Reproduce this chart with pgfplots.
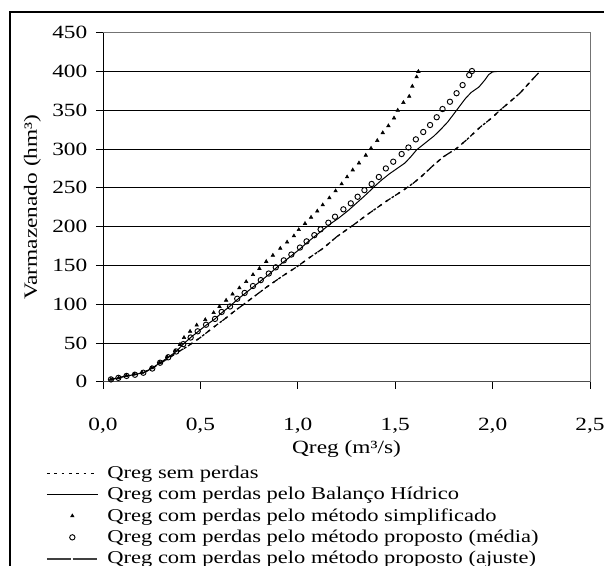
\documentclass[border=0pt]{standalone}
\usepackage{fontspec}
\setmainfont{Liberation Serif}[FakeStretch=1.25]
\usepackage{pgfplots}
\pgfplotsset{compat=1.18}
\pgfplotsset{
  lineleg/.style={legend image code/.code={\draw[##1] (0pt,0pt) -- (38pt,0pt);}},
  markleg/.style={legend image code/.code={\draw[##1] plot coordinates {(19pt,0pt)};}},
  ajusteleg/.style={legend image code/.code={\draw[black!75, line width=1.6pt, dash pattern=on 18pt off 1.2pt] (0pt,0pt) -- (38pt,0pt);}},
}
\begin{document}
\begin{tikzpicture}[x=1pt,y=1pt]
\useasboundingbox (0,0) rectangle (453,424.5);
\draw[line width=0.8pt] (7.5,-20) -- (7.5,415.5) -- (480,415.5);
\begin{axis}[
  at={(77.25pt,138.2pt)}, anchor=south west,
  scale only axis, width=365.25pt, height=261.75pt,
  xmin=0, xmax=2.5, ymin=0, ymax=450,
  xtick={0,0.5,1,1.5,2,2.5}, ytick={0,50,...,450},
  xtick pos=bottom, ytick pos=left,
  tick align=outside, major tick length=5.25pt,
  tick style={black, line width=0.6pt},
  axis line style={draw=none},
  ymajorgrids, grid style={black, line width=0.6pt},
  /pgf/number format/assume math mode=true,
  /pgf/number format/use comma,
  xticklabel={\pgfmathprintnumber[fixed, fixed zerofill, precision=1]{\tick}},
  ticklabel style={font=\fontsize{14}{16}\selectfont},
  xticklabel shift=18.5pt,
  yticklabel shift=3pt,
  every axis x label/.style={at={(axis description cs:0.5,0)}, anchor=center, yshift=-50.5pt},
  every axis y label/.style={at={(axis description cs:0,0.5)}, anchor=center, rotate=90, yshift=53pt},
  label style={font=\fontsize{14}{16}\selectfont},
  xlabel={Qreg (m³/s)},
  ylabel={Varmazenado (hm³)},
  legend style={draw=none, fill=none, at={(axis description cs:0,0)}, anchor=north west,
    xshift=-43pt, yshift=-61pt, font=\fontsize{13.5}{15.5}\selectfont,
    row sep=1.1pt, column sep=4.5pt, inner sep=0pt},
  legend cell align=left,
  clip=false,
]
\draw[black, line width=0.75pt] (rel axis cs:0,0) -- (rel axis cs:0,1);
\draw[black!55, line width=0.75pt] (rel axis cs:0,1) -- (rel axis cs:1,1) -- (rel axis cs:1,0);
\draw[black!70, line width=1pt] (rel axis cs:0,0) -- (rel axis cs:1,0);

% Qreg sem perdas
\addplot[black, line width=1pt, dash pattern=on 2pt off 3.5pt, lineleg]
coordinates {
(0.04,3) (0.08,5) (0.12,7.5) (0.16,9) (0.21,12) (0.25,17) (0.29,23) (0.335,30)
(0.376,37) (0.43,45) (0.50,57) (0.566,70) (0.62,80) (0.67,90) (0.75,105) (0.84,122)
(0.92,136) (0.994,148) (1.06,160) (1.13,172) (1.20,187) (1.285,202) (1.354,215)
(1.456,233) (1.542,247) (1.593,256) (1.636,265) (1.696,279) (1.747,290) (1.816,301)
(1.867,312) (1.935,328) (1.995,340) (2.038,350) (2.089,361) (2.14,372) (2.209,391)
(2.235,398) (2.245,400)
};
\addlegendentry{Qreg sem perdas}

% Qreg com perdas pelo Balanco Hidrico
\addplot[black, line width=0.75pt, lineleg]
coordinates {
(0.04,3) (0.08,5) (0.12,7.5) (0.16,9) (0.21,12) (0.25,17) (0.29,24) (0.335,31.5)
(0.376,39) (0.41,48) (0.45,57) (0.49,65) (0.53,73) (0.575,81) (0.61,89) (0.65,97)
(0.69,106) (0.73,114) (0.77,122) (0.81,130) (0.85,138) (0.89,147) (0.93,155)
(0.97,163) (1.01,171) (1.05,180) (1.09,188) (1.13,196) (1.17,204) (1.21,211)
(1.26,221) (1.30,230) (1.34,239) (1.37,246) (1.39,251) (1.43,260) (1.47,268)
(1.51,275) (1.55,282) (1.58,290) (1.61,299) (1.66,309) (1.70,317) (1.74,327)
(1.77,335) (1.80,345) (1.83,355) (1.86,365) (1.89,373) (1.93,380) (1.96,389)
(1.98,396) (2.00,399.5) (2.02,400)
};
\addlegendentry{Qreg com perdas pelo Balanço Hídrico}

% simplificado
\addplot[only marks, mark=triangle*, mark size=1.5pt, black, markleg]
coordinates {
(0.04,3) (0.08,5) (0.12,8) (0.16,10) (0.20,12) (0.25,18) (0.29,25) (0.33,32)
(0.37,40) (0.395,48) (0.416,57) (0.447,65) (0.481,73) (0.525,80) (0.568,89)
(0.598,97) (0.632,105) (0.665,113) (0.700,121) (0.735,129) (0.770,138) (0.803,146)
(0.838,155) (0.872,163) (0.910,172) (0.945,180) (0.980,188) (1.005,196) (1.037,204)
(1.068,212) (1.100,220) (1.128,228) (1.162,237) (1.194,246) (1.225,255) (1.253,264)
(1.282,273) (1.314,282) (1.349,292) (1.376,301) (1.408,311) (1.436,321) (1.465,330)
(1.494,340) (1.513,350) (1.542,360) (1.572,368) (1.588,381) (1.610,393) (1.619,400)
};
\addlegendentry{Qreg com perdas pelo método simplificado}

% media
\addplot[only marks, mark=o, mark size=2pt, black, mark options={line width=0.7pt}, markleg]
coordinates {
(0.041,3) (0.079,5) (0.121,7.5) (0.164,9) (0.207,11.6) (0.253,17) (0.293,24.5)
(0.335,31.5) (0.376,39) (0.412,48.5) (0.45,57) (0.486,65) (0.529,73.5) (0.575,81)
(0.609,90) (0.652,97) (0.689,107) (0.727,114.5) (0.77,123.4) (0.81,131) (0.851,139.5)
(0.887,147.5) (0.928,156.5) (0.967,164) (1.011,173) (1.045,181) (1.085,189)
(1.117,196.5) (1.157,205) (1.191,212.8) (1.234,222.3) (1.272,230) (1.307,238.5)
(1.342,247) (1.379,255) (1.416,264) (1.452,275) (1.49,283.7) (1.533,293.6)
(1.568,302) (1.606,312.5) (1.644,322) (1.679,331) (1.713,341) (1.743,351.6)
(1.781,361) (1.815,372) (1.846,382.5) (1.88,395.4) (1.894,400.6)
};
\addlegendentry{Qreg com perdas pelo método proposto (média)}

% ajuste
\addplot[black, line width=0.9pt, dash pattern=on 4pt off 4pt, ajusteleg]
coordinates {
(0.04,3) (0.08,5) (0.12,7.5) (0.16,9) (0.21,12) (0.25,17) (0.29,23) (0.335,30)
(0.376,37) (0.43,45) (0.50,57) (0.566,70) (0.62,80) (0.67,90) (0.75,105) (0.84,122)
(0.92,136) (0.994,148) (1.06,160) (1.13,172) (1.20,187) (1.285,202) (1.354,215)
(1.456,233) (1.542,247) (1.593,256) (1.636,265) (1.696,279) (1.747,290) (1.816,301)
(1.867,312) (1.935,328) (1.995,340) (2.038,350) (2.089,361) (2.14,372) (2.209,391)
(2.235,398) (2.245,400)
};
\addlegendentry{Qreg com perdas pelo método proposto (ajuste)}
\end{axis}
\end{tikzpicture}
\end{document}
